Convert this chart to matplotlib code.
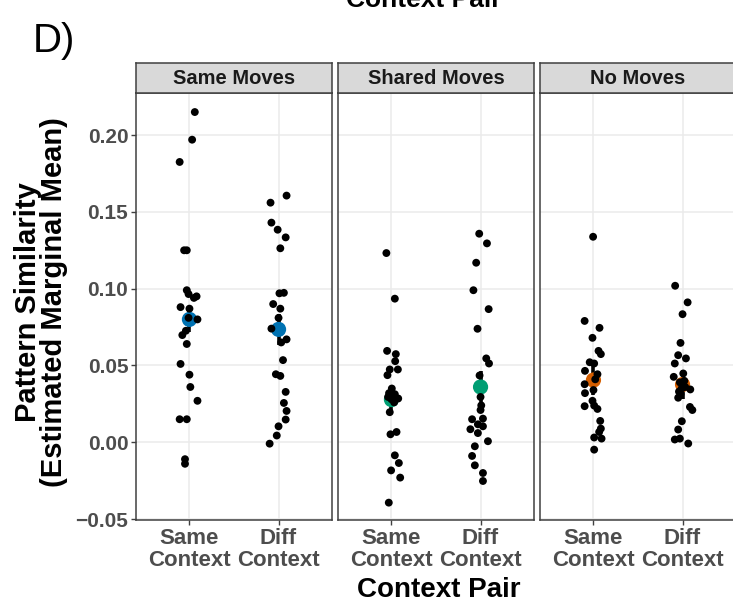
import matplotlib
matplotlib.use("Agg")
import matplotlib.pyplot as plt
import numpy as np

plt.rcParams["font.family"] = ["Liberation Sans", "DejaVu Sans"]

# facets and x categories
facets = ["Same Moves", "Shared Moves", "No Moves"]
pairs = ["Same\nContext", "Diff\nContext"]

# per-subject pattern similarity, with the horizontal jitter of each dot
same_moves_same = [0.215, 0.197, 0.1825, 0.125, 0.125, 0.099, 0.0965, 0.095, 0.094, 0.088, 0.087, 0.081,
                   0.080, 0.0726, 0.0698, 0.064, 0.051, 0.044, 0.036, 0.027, 0.015, 0.015, -0.011, -0.014]
same_moves_same_jit = [0.06, 0.03, -0.11, -0.06, -0.03, -0.03, -0.01, 0.08, 0.05, -0.10, 0.0, -0.01,
                       0.09, -0.04, -0.08, -0.03, -0.10, 0.0, 0.01, 0.09, -0.11, -0.03, -0.05, -0.05]
same_moves_diff = [0.1606, 0.156, 0.143, 0.1384, 0.1334, 0.1263, 0.0973, 0.097, 0.090, 0.087, 0.081, 0.074,
                   0.067, 0.065, 0.0535, 0.0443, 0.0432, 0.0328, 0.0256, 0.0204, 0.0148, 0.0104, 0.0044, -0.0009]
same_moves_diff_jit = [0.09, -0.09, -0.08, -0.01, 0.08, 0.02, 0.06, 0.01, -0.06, 0.02, 0.0, -0.08,
                       0.09, 0.03, 0.05, -0.03, 0.02, 0.08, 0.06, 0.09, 0.08, 0.0, -0.02, -0.10]

shared_moves_same = [0.1232, 0.0935, 0.0595, 0.0574, 0.0528, 0.0474, 0.0474, 0.0437, 0.035, 0.032, 0.0313, 0.030,
                     0.0295, 0.0285, 0.028, 0.026, 0.0196, 0.0067, 0.0052, -0.0085, -0.0135, -0.0183, -0.023, -0.0393]
shared_moves_same_jit = [-0.057, 0.038, -0.049, 0.049, 0.042, -0.019, 0.072, -0.045, 0.004, -0.027, 0.038, 0.02,
                         -0.038, 0.076, 0.0, 0.03, -0.019, 0.057, -0.011, 0.038, 0.083, -0.004, 0.098, -0.030]
shared_moves_diff = [0.1358, 0.1295, 0.1169, 0.099, 0.0867, 0.0739, 0.0546, 0.0513, 0.0435, 0.0295, 0.024, 0.021,
                     0.0154, 0.015, 0.0117, 0.0104, 0.0085, 0.006, 0.0007, -0.0026, -0.0089, -0.015, -0.020, -0.0252]
shared_moves_diff_jit = [-0.015, 0.072, -0.049, -0.080, 0.091, -0.034, 0.064, 0.095, -0.011, 0.0, 0.008, 0.0,
                         0.027, -0.095, -0.030, 0.027, -0.114, -0.030, 0.083, -0.064, -0.095, -0.064, 0.027, 0.027]

no_moves_same = [0.1338, 0.079, 0.0745, 0.068, 0.0595, 0.0574, 0.0521, 0.0513, 0.0465, 0.0443, 0.041, 0.0378,
                 0.034, 0.032, 0.027, 0.0239, 0.0235, 0.0217, 0.0139, 0.0089, 0.0067, 0.0031, 0.0024, -0.0048]
no_moves_same_jit = [-0.004, -0.099, 0.068, -0.011, 0.057, 0.083, -0.042, 0.008, -0.095, 0.045, 0.02, -0.099,
                     0.0, -0.095, -0.011, 0.008, -0.099, 0.045, 0.076, 0.083, 0.064, 0.008, 0.091, 0.008]
no_moves_diff = [0.1019, 0.0911, 0.0834, 0.0647, 0.0567, 0.0546, 0.0513, 0.0448, 0.0426, 0.040, 0.039, 0.036,
                 0.035, 0.0344, 0.033, 0.0313, 0.029, 0.023, 0.021, 0.0137, 0.0083, 0.0024, 0.0018, -0.0008]
no_moves_diff_jit = [-0.083, 0.057, 0.0, -0.023, -0.049, 0.038, -0.087, 0.008, -0.099, 0.02, -0.03, 0.03,
                     -0.01, 0.087, -0.04, -0.023, -0.049, 0.083, 0.110, -0.008, -0.049, -0.030, -0.087, 0.064]

# estimated marginal means and their standard errors
emm = [[0.080, 0.0735], [0.0278, 0.036], [0.0405, 0.0376]]
emm_se = [[0.0085, 0.010], [0.009, 0.0105], [0.0095, 0.0095]]
emm_colors = ["#0072B2", "#009E73", "#D55E00"]

points = [
    [(same_moves_same, same_moves_same_jit), (same_moves_diff, same_moves_diff_jit)],
    [(shared_moves_same, shared_moves_same_jit), (shared_moves_diff, shared_moves_diff_jit)],
    [(no_moves_same, no_moves_same_jit), (no_moves_diff, no_moves_diff_jit)],
]

W, H = 733, 605
fig = plt.figure(figsize=(W / 100, H / 100), dpi=100)


def px_rect(left, top, width, height):
    return [left / W, 1 - (top + height) / H, width / W, height / H]


panel_lefts = [136, 338, 540]
panel_w = 196
panel_top, panel_bottom, strip_h = 93, 520, 30
border = "#404040"

for k, facet in enumerate(facets):
    left = panel_lefts[k]
    ax = fig.add_axes(px_rect(left, panel_top, panel_w, panel_bottom - panel_top))
    ax.set_xlim(0.4, 2.6)
    ax.set_ylim(-0.0506, 0.2274)
    ax.set_xticks([1, 2])
    ax.set_yticks([-0.05, 0.0, 0.05, 0.10, 0.15, 0.20])
    ax.grid(True, color="#EBEBEB", linewidth=1.1)
    ax.set_axisbelow(True)
    for sp in ax.spines.values():
        sp.set_color(border)
        sp.set_linewidth(1.1)
    ax.tick_params(length=3.5, width=1, color=border, pad=2)
    ax.set_xticklabels(pairs, fontsize=16, fontweight="bold", color="#4D4D4D", linespacing=1.1)
    if k == 0:
        ax.set_yticklabels(["\u22120.05", "0.00", "0.05", "0.10", "0.15", "0.20"],
                           fontsize=15, fontweight="bold", color="#4D4D4D")
    else:
        ax.tick_params(axis="y", length=0, labelleft=False)

    for j in range(2):
        # standard error bar and the marginal mean
        ax.plot([j + 1, j + 1], [emm[k][j] - emm_se[k][j], emm[k][j] + emm_se[k][j]],
                color="black", linewidth=2.6, solid_capstyle="butt", zorder=3)
        ax.scatter([j + 1], [emm[k][j]], s=120, color=emm_colors[k], edgecolors="none", zorder=4)
        vals, jit = points[k][j]
        ax.scatter(np.array(jit) + j + 1, vals, s=32, color="black", edgecolors="none", zorder=5)

    # facet strip
    sax = fig.add_axes(px_rect(left, panel_top - strip_h, panel_w, strip_h))
    sax.set_facecolor("#D9D9D9")
    sax.set_xticks([])
    sax.set_yticks([])
    for sp in sax.spines.values():
        sp.set_color(border)
        sp.set_linewidth(1.1)
    sax.text(0.5, 0.5, facet, transform=sax.transAxes, ha="center", va="center",
             fontsize=14.5, fontweight="bold", color="#1A1A1A")

fig.text(33 / W, 1 - 52 / H, "D)", fontsize=29, ha="left", va="baseline",
         family=["Liberation Sans Narrow", "Liberation Sans"])
fig.text(424 / W, 1 - 7 / H, "Context Pair", fontsize=19, fontweight="bold", ha="center", va="baseline")
fig.text(439 / W, 1 - 590 / H, "Context Pair", fontsize=20, fontweight="bold", ha="center", va="center")
fig.text(41 / W, 1 - 302 / H, "Pattern Similarity\n(Estimated Marginal Mean)", fontsize=21,
         fontweight="bold", rotation=90, ha="center", va="center", linespacing=0.95)

fig.savefig("out.png", dpi=100)
